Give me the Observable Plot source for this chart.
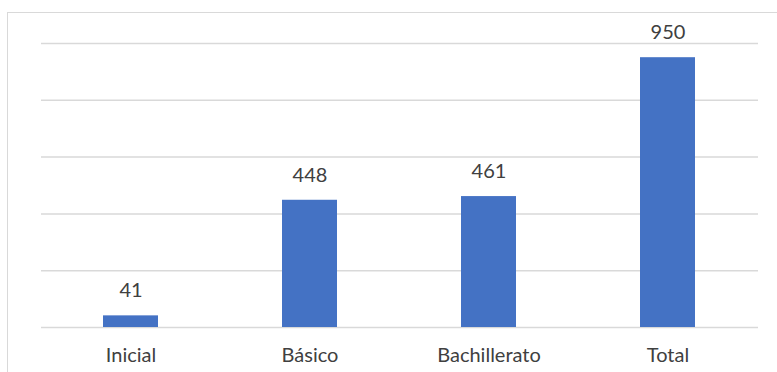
<!DOCTYPE html>
<html>
<head>
<meta charset="utf-8">
<script src="https://cdn.jsdelivr.net/npm/d3@7"></script>
<script src="https://cdn.jsdelivr.net/npm/@observablehq/plot@0.6"></script>
<style>
  html, body { margin: 0; padding: 0; background: #fff; overflow: hidden; }
  #wrap { position: relative; width: 777px; height: 372px; }
  #wrap svg { position: absolute; left: 0; top: 0; }
  #border { position: absolute; left: 7px; top: 12px; width: 800px; height: 400px; border: 1.5px solid #d9d9d9; box-sizing: border-box; }
</style>
</head>
<body>
<div id="wrap"><div id="border"></div></div>
<script>
const categories = ["Inicial", "Básico", "Bachillerato", "Total"];
const values = [41, 448, 461, 950];
const yTicks = [0, 200, 400, 600, 800, 1000];

const data = categories.map((c, i) => ({category: c, value: values[i]}));

const chart = Plot.plot({
  width: 777,
  height: 372,
  marginLeft: 41,
  marginRight: 19,
  marginTop: 43,
  marginBottom: 45,
  style: {fontFamily: "Lato, 'Open Sans', sans-serif", fontSize: "20px", color: "#404040", background: "transparent"},
  x: {domain: categories, paddingInner: 0.69, paddingOuter: 0.345, label: null},
  y: {domain: [0, 1000], axis: null},
  marks: [
    Plot.gridY(yTicks, {stroke: "#d9d9d9", strokeOpacity: 1, strokeWidth: 1.5}),
    Plot.barY(data, {x: "category", y: "value", fill: "#4472C4"}),
    Plot.text(data, {x: "category", y: "value", text: d => String(d.value), dy: -25, fill: "#404040", fontSize: 20}),
    Plot.axisX({tickSize: 0, tickPadding: 20, fontSize: 20, fill: "#404040", label: null})
  ]
});
document.getElementById("wrap").appendChild(chart);
</script>
</body>
</html>
